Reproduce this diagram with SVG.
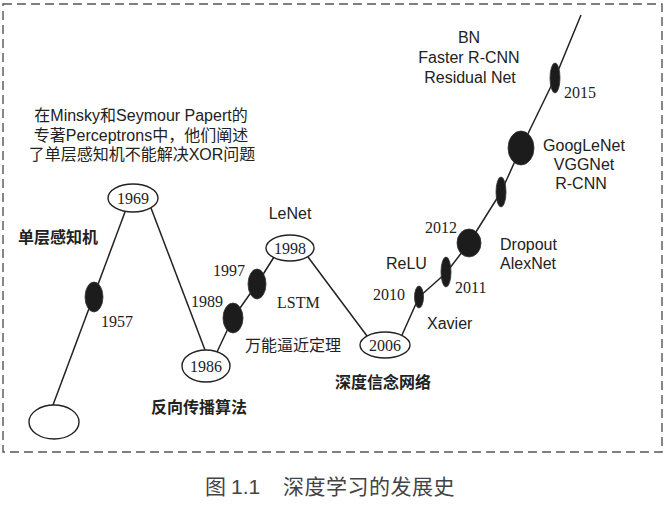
<svg xmlns="http://www.w3.org/2000/svg" width="666" height="507" viewBox="0 0 666 507">
<defs>
<style>
.frame{fill:none;stroke:#555;stroke-width:1.4;stroke-dasharray:9 5}
.ln{fill:none;stroke:#222;stroke-width:1.5;stroke-linejoin:round}
.node{fill:#fff;stroke:#222;stroke-width:1.4}
.blob{fill:#1c1c1c;stroke:#333;stroke-width:0.8}
.yr{font-family:"Liberation Serif",serif;font-size:16px;fill:#222}
.yrc{font-family:"Liberation Serif",serif;font-size:16px;fill:#222;text-anchor:middle}
.sa{font-family:"Liberation Sans",sans-serif;font-size:16px;fill:#222}
.sac{font-family:"Liberation Sans",sans-serif;font-size:16px;fill:#222;text-anchor:middle}
.cjk{font-family:"Liberation Sans","Noto Sans CJK SC",sans-serif;font-size:16px;fill:#222}
.cjkb{font-family:"Liberation Sans","Noto Sans CJK SC",sans-serif;font-size:16px;fill:#222;font-weight:700}
.cap{font-family:"Liberation Sans","Noto Sans CJK SC",sans-serif;font-size:21px;fill:#444}
</style>
</defs>
<rect class="frame" x="3" y="4" width="659" height="448"/>

<g id="connectors">
<line class="ln" x1="53" y1="405" x2="125" y2="212"/>
<line class="ln" x1="151" y1="208" x2="205" y2="350"/>
<polyline class="ln" points="217,352 233,318 257,284 274,257"/>
<line class="ln" x1="308" y1="257" x2="367" y2="336"/>
<polyline class="ln" points="402,335 419,297 446,273 469,243 501,192 521,148 555,78 581,15"/>
</g>

<g id="n-start"><ellipse class="node" cx="54" cy="422" rx="25" ry="17"/></g>
<g id="n-1957"><ellipse class="blob" cx="94" cy="297" rx="9" ry="15"/><text class="yr" x="101" y="327">1957</text></g>
<g id="n-1969"><ellipse class="node" cx="133" cy="198" rx="25" ry="14"/><text class="yrc" x="133" y="204">1969</text></g>
<g id="n-1986"><ellipse class="node" cx="206" cy="366" rx="24" ry="16"/><text class="yrc" x="206" y="372">1986</text></g>
<g id="n-1989"><ellipse class="blob" cx="233" cy="318" rx="10" ry="15"/><text class="yr" x="191" y="307">1989</text></g>
<g id="n-1997"><ellipse class="blob" cx="257" cy="284" rx="9" ry="15"/><text class="yr" x="213" y="276">1997</text></g>
<g id="n-1998"><ellipse class="node" cx="290" cy="248" rx="24" ry="13"/><text class="yrc" x="290" y="254">1998</text></g>
<g id="n-2006"><ellipse class="node" cx="385" cy="345" rx="25" ry="13"/><text class="yrc" x="385" y="351">2006</text></g>
<g id="n-2010"><ellipse class="blob" cx="419" cy="297" rx="4.5" ry="11"/><text class="yr" x="373" y="300">2010</text></g>
<g id="n-2011"><ellipse class="blob" cx="446" cy="272" rx="5" ry="15"/><text class="yr" x="455" y="293">2011</text></g>
<g id="n-2012"><ellipse class="blob" cx="469" cy="243" rx="12" ry="14"/><text class="yr" x="425" y="233">2012</text></g>
<g id="n-2013"><ellipse class="blob" cx="501" cy="192" rx="5" ry="15"/></g>
<g id="n-2014"><ellipse class="blob" cx="521" cy="148" rx="13" ry="17"/></g>
<g id="n-2015"><ellipse class="blob" cx="555" cy="78" rx="5" ry="15"/><text class="yr" x="564" y="98">2015</text></g>

<g id="labels">
<text class="cjk" text-anchor="middle" x="141" y="121">在Minsky和Seymour Papert的</text>
<text class="cjk" text-anchor="middle" x="141" y="141">专著Perceptrons中，他们阐述</text>
<text class="cjk" text-anchor="middle" x="142" y="160">了单层感知机不能解决XOR问题</text>
<text class="cjkb" x="18" y="243">单层感知机</text>
<text class="cjkb" x="151" y="413">反向传播算法</text>
<text class="cjk" x="245" y="351">万能逼近定理</text>
<text class="yr" x="277" y="308">LSTM</text>
<text class="sac" x="290" y="219">LeNet</text>
<text class="cjkb" x="335" y="388">深度信念网络</text>
<text class="sa" x="386" y="269">ReLU</text>
<text class="sa" x="427" y="329">Xavier</text>
<text class="sa" x="500" y="250">Dropout</text>
<text class="sa" x="500" y="269">AlexNet</text>
<text class="sac" x="584" y="151">GoogLeNet</text>
<text class="sac" x="584" y="170">VGGNet</text>
<text class="sac" x="581" y="189">R-CNN</text>
<text class="sac" x="469" y="43">BN</text>
<text class="sac" x="469" y="63">Faster R-CNN</text>
<text class="sac" x="470" y="83">Residual Net</text>
</g>

<text class="cap" y="494"><tspan x="205">图</tspan><tspan x="231">1.1</tspan><tspan x="283" letter-spacing="0.5">深度学习的发展史</tspan></text>
</svg>
